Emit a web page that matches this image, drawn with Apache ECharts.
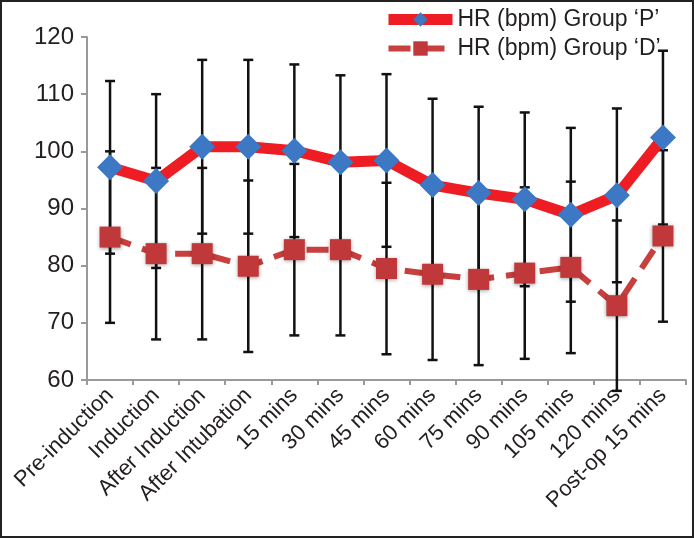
<!DOCTYPE html>
<html>
<head>
<meta charset="utf-8">
<script src="https://cdn.jsdelivr.net/npm/echarts@6/dist/echarts.min.js"></script>
<style>
  html, body { margin: 0; padding: 0; background: #fff; }
  #chart { width: 694px; height: 538px; box-sizing: border-box; border: 2px solid #222; }
</style>
</head>
<body>
<div id="chart"></div>
<script>
// categories (time points)
const categories = ['Pre-induction', 'Induction', 'After Induction', 'After Intubation',
  '15 mins', '30 mins', '45 mins', '60 mins', '75 mins', '90 mins', '105 mins', '120 mins', 'Post-op 15 mins'];

// mean heart rate, group P and group D
const meanP = [97.2, 94.8, 100.8, 100.8, 100.1, 98.1, 98.4, 94.1, 92.7, 91.6, 88.9, 92.3, 102.4];
const meanD = [85.0, 82.1, 82.1, 79.9, 82.8, 82.8, 79.5, 78.5, 77.6, 78.7, 79.7, 73.0, 85.2];

// standard deviations (error bar half lengths)
const sdP = [15.1, 15.2, 15.2, 15.2, 15.1, 15.2, 15.1, 15.1, 15.1, 15.2, 15.2, 15.2, 15.2];
const sdD = [15.0, 15.0, 15.0, 15.0, 15.0, 15.0, 15.0, 15.0, 15.0, 15.0, 15.0, 14.9, 15.0];

const yTicks = [60, 70, 80, 90, 100, 110, 120];

const nameP = 'HR (bpm) Group \u2018P\u2019';
const nameD = 'HR (bpm) Group \u2018D\u2019';

function errData(mean, sd) {
  return mean.map((m, i) => [i, m - sd[i], m + sd[i]]);
}

function renderErr(params, api) {
  const x = api.value(0);
  const lo = api.coord([x, api.value(1)]);
  const hi = api.coord([x, api.value(2)]);
  const cap = 5;
  const style = { stroke: '#111', lineWidth: 2.5 };
  return {
    type: 'group',
    children: [
      { type: 'line', shape: { x1: hi[0], y1: hi[1], x2: lo[0], y2: lo[1] }, style: style },
      { type: 'line', shape: { x1: hi[0] - cap, y1: hi[1], x2: hi[0] + cap, y2: hi[1] }, style: style },
      { type: 'line', shape: { x1: lo[0] - cap, y1: lo[1], x2: lo[0] + cap, y2: lo[1] }, style: style }
    ]
  };
}

const chart = echarts.init(document.getElementById('chart'));
const font = 'Liberation Sans, Arial, sans-serif';

chart.setOption({
  animation: false,
  textStyle: { fontFamily: font },
  legend: {
    data: [
      { name: nameP, lineStyle: { width: 11 } },
      { name: nameD, lineStyle: { width: 6 } }
    ],
    orient: 'vertical',
    left: 376,
    top: 1,
    itemWidth: 64,
    itemHeight: 18,
    itemGap: 6,
    textStyle: { fontSize: 23, color: '#231f20', fontFamily: font }
  },
  grid: { left: 85, right: 6, top: 35, bottom: 156, containLabel: false },
  xAxis: {
    type: 'category',
    data: categories,
    boundaryGap: true,
    axisLine: { lineStyle: { color: '#9a9a9a', width: 2 } },
    axisTick: { show: true, length: 5, lineStyle: { color: '#9a9a9a', width: 2 } },
    axisLabel: { interval: 0, rotate: 45, fontSize: 22, color: '#231f20', margin: 12 },
    splitLine: { show: false }
  },
  yAxis: {
    type: 'value',
    min: yTicks[0],
    max: yTicks[yTicks.length - 1],
    interval: 10,
    axisLine: { show: true, lineStyle: { color: '#9a9a9a', width: 2 } },
    axisTick: { show: true, length: 6, lineStyle: { color: '#9a9a9a', width: 2 } },
    axisLabel: { fontSize: 24, color: '#231f20', margin: 13 },
    splitLine: { show: false }
  },
  series: [
    {
      type: 'custom',
      name: 'errP',
      renderItem: renderErr,
      data: errData(meanP, sdP),
      encode: { x: 0, y: [1, 2] },
      z: 1
    },
    {
      type: 'custom',
      name: 'errD',
      renderItem: renderErr,
      data: errData(meanD, sdD),
      encode: { x: 0, y: [1, 2] },
      z: 1
    },
    {
      name: nameD,
      type: 'line',
      data: meanD,
      symbol: 'rect',
      symbolSize: 21,
      lineStyle: { color: '#c8403d', width: 6, type: [22, 12] },
      itemStyle: { color: '#c0383a', shadowBlur: 4, shadowColor: 'rgba(0,0,0,0.35)', shadowOffsetY: 1 },
      z: 2
    },
    {
      name: nameP,
      type: 'line',
      data: meanP,
      symbol: 'diamond',
      symbolSize: 26,
      lineStyle: { color: '#ee1d23', width: 11 },
      itemStyle: { color: '#3d78c4' },
      z: 3
    }
  ]
});
</script>
</body>
</html>
